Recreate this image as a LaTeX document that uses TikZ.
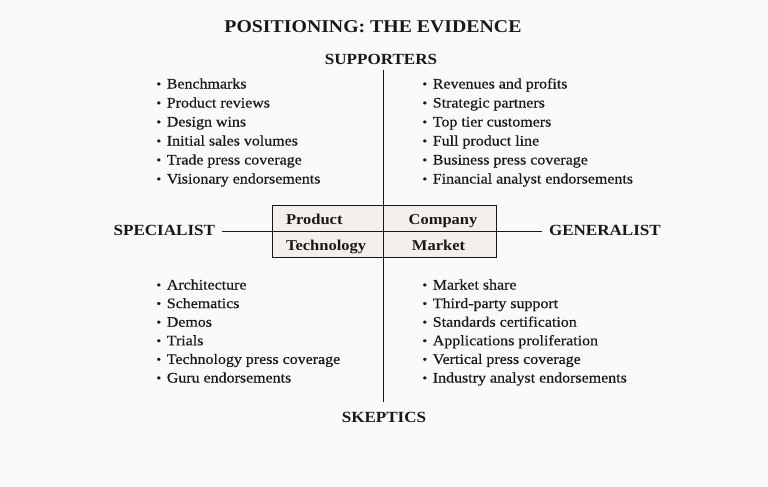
\documentclass[tikz,border=0pt]{standalone}
\usepackage{fontspec}
\setmainfont[FakeStretch=1.1]{Liberation Serif}
\newfontfamily\itemfont[FakeStretch=1.1,FakeBold=0.5]{Liberation Serif}
\definecolor{bgcol}{RGB}{251,250,249}
\definecolor{boxcol}{RGB}{242,239,236}
\definecolor{ink}{RGB}{26,24,22}
\newcommand{\lbul}{\raisebox{0.6pt}{\fontsize{12}{12}\selectfont\textbullet}\hspace{5.7pt}}
\begin{document}
\begin{tikzpicture}[x=1pt,y=-1pt,
  every node/.style={inner sep=0pt,outer sep=0pt,text=ink},
  item/.style={anchor=base west,font=\itemfont\fontsize{14.5}{17}\selectfont},
  head/.style={font=\bfseries\fontsize{15.5}{19}\selectfont},
  cell/.style={font=\bfseries\fontsize{15}{18}\selectfont},
  ln/.style={line width=0.9pt,draw=ink}]
\fill[bgcol] (0,0) rectangle (768,487);
\useasboundingbox (0,0) rectangle (768,487);
% titles
\node[anchor=base,font=\bfseries\fontsize{18}{22}\selectfont] (title) at (373,32.3) {POSITIONING: THE EVIDENCE};
\node[head,anchor=base] (sup) at (381,64.3) {SUPPORTERS};
\node[head,anchor=base] (ske) at (384,422.7) {SKEPTICS};
\node[head,anchor=base east] (spec) at (215,235) {SPECIALIST};
\node[head,anchor=base west] (gen) at (549,235) {GENERALIST};
% box
\node[draw=ink,line width=0.9pt,fill=boxcol,minimum width=224pt,minimum height=52pt] (box) at (384,231) {};
\coordinate (vtop) at (383,70);
\coordinate (vbot) at (383,402);
\draw[ln] (vtop) -- (vbot);
\draw[ln] (box.west) -- (box.east);
\coordinate (sl) at (222,231);
\coordinate (gl) at (542,231);
\draw[ln] (sl) -- (box.west);
\draw[ln] (box.east) -- (gl);
\node[cell,anchor=base west] (prod) at (286,224.3) {Product};
\node[cell,anchor=base west] (tech) at (286,250) {Technology};
\node[cell,anchor=base] (comp) at (443,224.3) {Company};
\node[cell,anchor=base] (mark) at (438.5,250) {Market};
% lists
\foreach \t [count=\i] in {Benchmarks,Product reviews,Design wins,Initial sales volumes,Trade press coverage,Visionary endorsements}
  \node[item] (tl\i) at (156.5,{88.5+19*(\i-1)}) {\lbul\t};
\foreach \t [count=\i] in {Revenues and profits,Strategic partners,Top tier customers,Full product line,Business press coverage,Financial analyst endorsements}
  \node[item] (tr\i) at (422.5,{88.5+19*(\i-1)}) {\lbul\t};
\foreach \t [count=\i] in {Architecture,Schematics,Demos,Trials,Technology press coverage,Guru endorsements}
  \node[item] (bl\i) at (156.5,{289.5+18.6*(\i-1)}) {\lbul\t};
\foreach \t [count=\i] in {Market share,Third-party support,Standards certification,Applications proliferation,Vertical press coverage,Industry analyst endorsements}
  \node[item] (br\i) at (422.5,{289.5+18.6*(\i-1)}) {\lbul\t};
\end{tikzpicture}
\end{document}
